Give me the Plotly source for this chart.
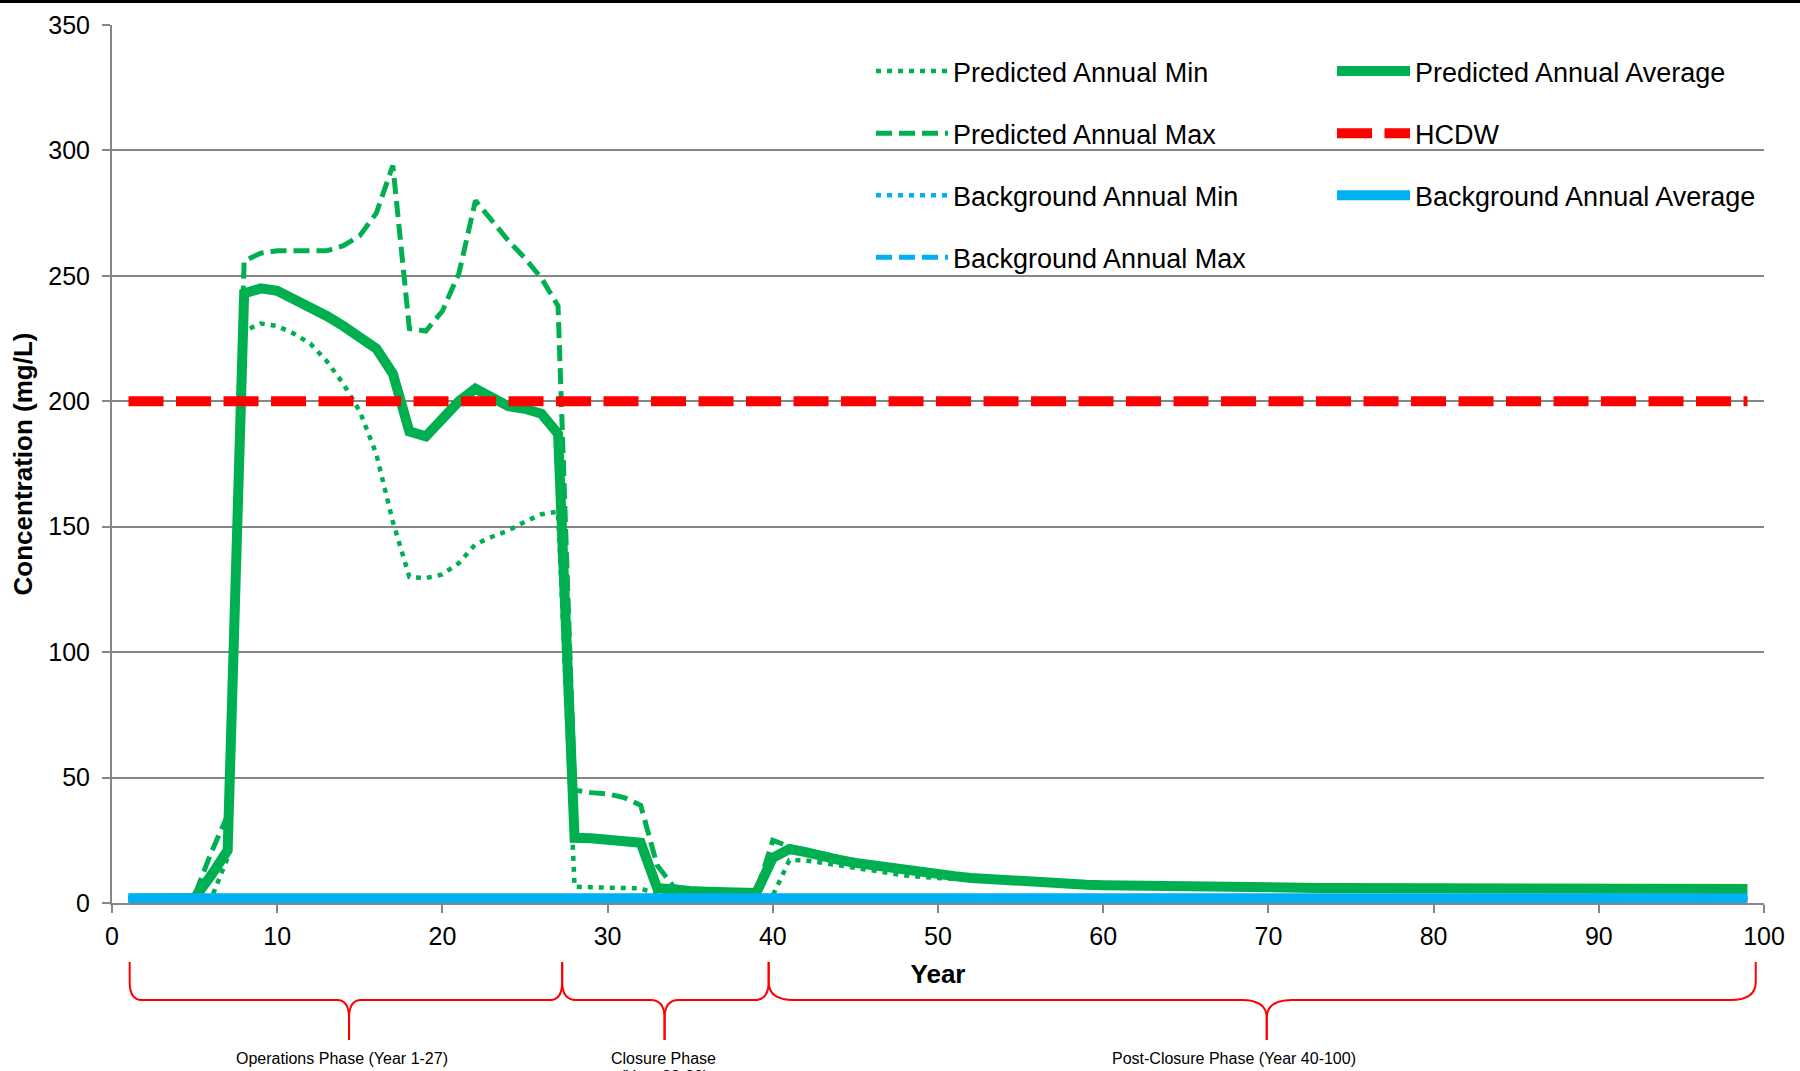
import plotly.graph_objects as go

# ---------------- data ----------------
years = list(range(1, 100))

pred_avg = [
    1.7, 1.7, 1.7, 1.7, 2.0, 11.0, 21.0, 243.0, 245.0, 244.0,
    241.0, 237.0, 234.0, 230.0, 226.0, 221.0, 211.0, 188.0, 186.0, 193.0,
    200.0, 205.0, 201.0, 198.0, 197.0, 195.0, 187.0, 26.0, 25.8, 25.5,
    25.0, 24.0, 6.0, 5.0, 4.8, 4.5, 4.3, 4.1, 4.0, 18.0,
    21.5, 20.3, 18.5, 17.2, 16.0, 15.0, 13.9, 13.0, 12.2, 11.4,
    10.7, 10.0, 9.5, 9.0, 8.6, 8.2, 7.8, 7.5, 7.3, 7.1,
    6.95, 6.8, 6.7, 6.6, 6.5, 6.4, 6.35, 6.3, 6.2, 6.15,
    6.1, 6.05, 6.0, 5.98, 5.95, 5.92, 5.9, 5.88, 5.85, 5.83,
    5.8, 5.8, 5.78, 5.76, 5.75, 5.74, 5.72, 5.7, 5.7, 5.68,
    5.67, 5.66, 5.65, 5.64, 5.63, 5.62, 5.61, 5.6, 5.6,
]

pred_max = [
    1.7, 1.7, 1.7, 1.7, 3.0, 20.0, 35.0, 256.0, 259.0, 260.0,
    260.0, 260.0, 260.0, 262.0, 266.0, 275.0, 294.0, 229.0, 228.0, 236.0,
    251.0, 280.0, 272.0, 264.0, 257.0, 249.0, 238.0, 45.0, 44.0, 43.5,
    42.0, 39.0, 15.0, 6.5, 5.5, 5.0, 4.6, 4.3, 4.1, 25.0,
    22.5, 21.0, 19.5, 18.0, 16.7, 15.6, 14.5, 13.5, 12.6, 11.8,
    11.0, 10.3, 9.7, 9.2, 8.8, 8.4, 8.0, 7.7, 7.5, 7.3,
    7.1, 6.95, 6.85, 6.75, 6.65, 6.55, 6.5, 6.45, 6.35, 6.3,
    6.25, 6.2, 6.15, 6.13, 6.1, 6.07, 6.05, 6.03, 6.0, 5.98,
    5.95, 5.95, 5.93, 5.91, 5.9, 5.89, 5.87, 5.85, 5.85, 5.83,
    5.82, 5.81, 5.8, 5.79, 5.78, 5.77, 5.76, 5.75, 5.75,
]

pred_min = [
    1.7, 1.7, 1.7, 1.7, 1.7, 1.7, 18.0, 228.0, 231.0, 230.0,
    227.0, 223.0, 216.0, 207.0, 196.0, 179.0, 152.0, 130.0, 129.5, 131.0,
    135.5, 143.0, 146.0, 148.5, 152.0, 155.0, 156.0, 6.5, 6.3, 6.2,
    6.0, 5.8, 3.5, 3.0, 2.8, 2.7, 2.6, 2.5, 2.5, 3.0,
    17.0, 17.0, 16.0, 14.8, 13.7, 12.6, 11.7, 11.0, 10.4, 9.9,
    9.4, 9.0, 8.6, 8.3, 8.0, 7.7, 7.4, 7.2, 7.0, 6.85,
    6.7, 6.6, 6.5, 6.4, 6.3, 6.25, 6.2, 6.15, 6.05, 6.0,
    5.95, 5.9, 5.85, 5.83, 5.8, 5.77, 5.75, 5.73, 5.7, 5.68,
    5.65, 5.65, 5.63, 5.61, 5.6, 5.59, 5.57, 5.55, 5.55, 5.53,
    5.52, 5.51, 5.5, 5.49, 5.48, 5.47, 5.46, 5.45, 5.45,
]

bkg_years = [1, 99]
bkg_avg = [1.7, 1.7]
bkg_min = [1.6, 1.6]
bkg_max = [1.8, 1.8]

hcdw_years = [1, 99]
hcdw = [200, 200]

x_ticks = list(range(0, 101, 10))
y_ticks = list(range(0, 351, 50))

phase_labels = ["Operations Phase (Year 1-27)", "Closure Phase", "Post-Closure Phase (Year 40-100)"]
phase_sublabels = ["", "(Year 28-39)", ""]
phase_bounds = [1.07, 27.25, 39.75, 99.5]
phase_tips = [14.35, 33.45, 69.9]
phase_label_x = [13.9, 33.4, 67.9]

# ---------------- styling ----------------
GREEN = "#00B050"
RED = "#FF0000"
BLUE = "#00B0F0"
GRID = "#868686"
FONT = "Liberation Sans, Arial, sans-serif"

W, H = 1800, 1071
ML, MR, MT, MB = 112, 36, 25, 168
PW, PH = W - ML - MR, H - MT - MB
BOTTOM = H - MB


def paper_y(px):
    return (BOTTOM - px) / PH


XU = 100.0 / PW  # data units per pixel

fig = go.Figure()

# drawing order: predicted min/max, predicted avg, background min/max, HCDW, background avg
fig.add_trace(go.Scatter(x=years, y=pred_min, mode="lines", name="Predicted Annual Min",
                         line=dict(color=GREEN, width=4.5, dash="5px,6px"),
                         legend="legend", legendrank=1, legendgroup="a"))
fig.add_trace(go.Scatter(x=years, y=pred_max, mode="lines", name="Predicted Annual Max",
                         line=dict(color=GREEN, width=5, dash="16px,7px"),
                         legend="legend", legendrank=2, legendgroup="b"))
fig.add_trace(go.Scatter(x=years, y=pred_avg, mode="lines", name="Predicted Annual Average",
                         line=dict(color=GREEN, width=10),
                         legend="legend2", legendrank=1, legendgroup="e"))
fig.add_trace(go.Scatter(x=bkg_years, y=bkg_min, mode="lines", name="Background Annual Min",
                         line=dict(color=BLUE, width=4.5, dash="5px,6px"),
                         legend="legend", legendrank=3, legendgroup="c"))
fig.add_trace(go.Scatter(x=bkg_years, y=bkg_max, mode="lines", name="Background Annual Max",
                         line=dict(color=BLUE, width=5, dash="16px,7px"),
                         legend="legend", legendrank=4, legendgroup="d"))
fig.add_trace(go.Scatter(x=hcdw_years, y=hcdw, mode="lines", name="HCDW",
                         line=dict(color=RED, width=10, dash="35px,12.5px"),
                         legend="legend2", legendrank=2, legendgroup="f"))
fig.add_trace(go.Scatter(x=bkg_years, y=bkg_avg, mode="lines", name="Background Annual Average",
                         line=dict(color=BLUE, width=11),
                         legend="legend2", legendrank=3, legendgroup="g"))

shapes = []
# thin black bar at the very top of the image
shapes.append(dict(type="rect", xref="paper", yref="paper", x0=-ML / PW, x1=1 + MR / PW,
                   y0=paper_y(0), y1=paper_y(3), fillcolor="black", line=dict(width=0), layer="above"))

# braces under the x axis
brace_rh = [12, 14, 25]   # horizontal radius in px
TOP, MID, TIP, RV = 962, 1000, 1040, 18
annotations = []
for i, label in enumerate(phase_labels):
    x0, x1 = phase_bounds[i], phase_bounds[i + 1]
    xc = phase_tips[i]
    rh = brace_rh[i] * XU
    yt, ym, yl, ytip = paper_y(TOP), paper_y(MID), paper_y(MID - RV), paper_y(TIP)
    yc = paper_y(MID + RV)
    for xe, s in ((x0, 1), (x1, -1)):
        path = (f"M{xe},{yt} L{xe},{yl} Q{xe},{ym} {xe + s * rh},{ym} "
                f"L{xc - s * rh},{ym} Q{xc},{ym} {xc},{yc} L{xc},{ytip}")
        shapes.append(dict(type="path", xref="x", yref="paper", path=path,
                           line=dict(color=RED, width=2)))
    annotations.append(dict(x=phase_label_x[i], xref="x", y=paper_y(1058), yref="paper", text=label,
                            showarrow=False, xanchor="center", yanchor="middle",
                            font=dict(family=FONT, size=16, color="black")))
    if phase_sublabels[i]:
        annotations.append(dict(x=phase_label_x[i], xref="x", y=paper_y(1076), yref="paper",
                                text=phase_sublabels[i],
                                showarrow=False, xanchor="center", yanchor="middle",
                                font=dict(family=FONT, size=16, color="black")))

legend_common = dict(xanchor="left", yanchor="top", bgcolor="rgba(0,0,0,0)",
                     font=dict(family=FONT, size=27, color="black"),
                     traceorder="grouped", tracegroupgap=24)

fig.update_layout(
    width=W, height=H,
    margin=dict(l=ML, r=MR, t=MT, b=MB, autoexpand=False),
    paper_bgcolor="white", plot_bgcolor="white",
    font=dict(family=FONT, size=25, color="black"),
    showlegend=True,
    legend=dict(x=(871 - ML) / PW, y=paper_y(47), itemwidth=72, **legend_common),
    legend2=dict(x=(1332 - ML) / PW, y=paper_y(47), itemwidth=73, **legend_common),
    shapes=shapes,
    annotations=annotations,
    xaxis=dict(range=[0, 100], tickvals=x_ticks, ticks="outside", ticklen=8, tickwidth=2,
               tickcolor=GRID, showline=True, linecolor=GRID, linewidth=2, showgrid=False,
               zeroline=False, automargin=False, ticklabelstandoff=2,
               tickfont=dict(family=FONT, size=25, color="black"),
               title=dict(text="<b>Year</b>", standoff=16,
                          font=dict(family=FONT, size=26, color="black"))),
    yaxis=dict(range=[0, 350], tickvals=y_ticks, ticks="outside", ticklen=8, tickwidth=2,
               tickcolor=GRID, showline=True, linecolor=GRID, linewidth=2, showgrid=True,
               gridcolor=GRID, gridwidth=2, zeroline=False, automargin=False,
               ticklabelstandoff=7,
               tickfont=dict(family=FONT, size=25, color="black"),
               title=dict(text="<b>Concentration (mg/L)</b>", standoff=8,
                          font=dict(family=FONT, size=26, color="black"))),
)

fig.write_html("out.html")
